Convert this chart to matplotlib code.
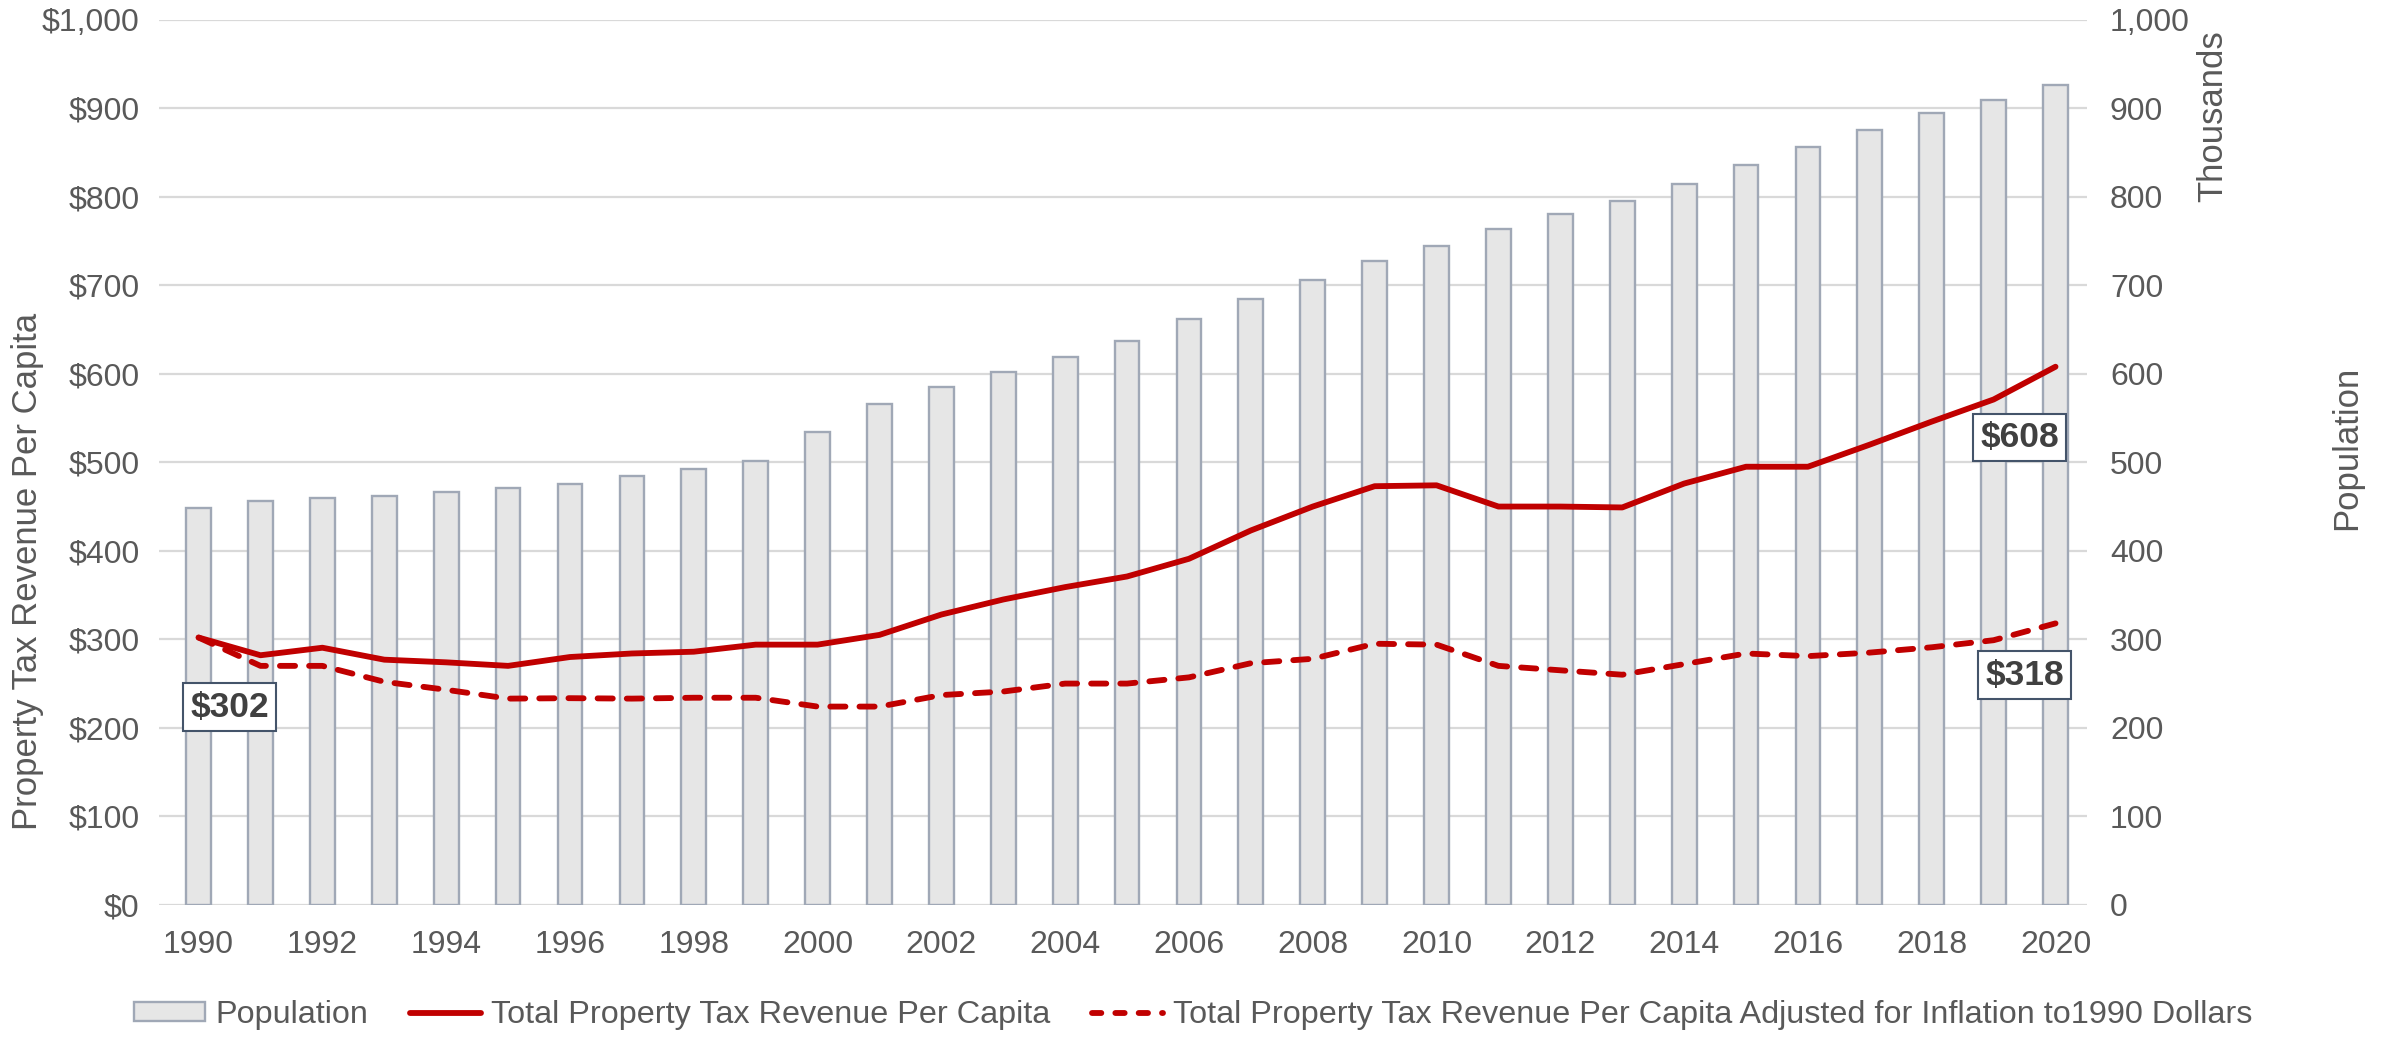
import matplotlib
matplotlib.use("Agg")
import matplotlib.pyplot as plt
from matplotlib.ticker import FuncFormatter, MultipleLocator
from matplotlib.patches import Patch
from matplotlib.lines import Line2D

plt.rcParams["font.family"] = ["Liberation Sans", "DejaVu Sans"]

years = list(range(1990, 2021))

# population, thousands
population = [448, 456, 460, 462, 466.5, 470.6, 476, 484.5, 492, 502,
              534, 566, 585, 602, 618.6, 636.7, 662, 685, 706, 727,
              744.6, 763.7, 780.8, 795.4, 814.6, 835.8, 856.8, 875.2, 894.8, 909.4,
              925.8]

# property tax revenue per capita, nominal dollars
revenue_nominal = [302, 282, 290.5, 277, 274, 270, 280, 284, 286, 294,
                   294, 305, 328, 345, 359, 371, 391, 423, 450, 473,
                   474, 450, 450, 449, 476, 495, 495, 520, 546, 571,
                   608]

# property tax revenue per capita, 1990 dollars
revenue_real = [302, 270, 270, 252, 243, 233, 233.5, 233, 234, 234,
                224, 224, 237, 241, 250, 250, 257, 273, 278, 295,
                294, 270, 265, 260, 272, 284, 281, 285, 291, 299,
                318]

TEXT = "#595959"
RED = "#C00000"
BAR_FILL = "#E6E6E6"
BAR_EDGE = "#A0A8B6"
GRID = "#D9D9D9"
LW = 4.2

fig = plt.figure(figsize=(23.89, 10.41), dpi=100)
ax2 = fig.add_axes([0.0666, 0.1308, 0.8070, 0.8502])
ax = ax2.twinx()
ax.set_zorder(ax2.get_zorder() + 1)
ax.patch.set_visible(False)

x = list(range(len(years)))

# population bars on the right-hand axis
ax2.bar(x, population, width=0.40, color=BAR_FILL, edgecolor=BAR_EDGE,
        linewidth=1.7, zorder=2)
ax2.set_axisbelow(True)
ax2.yaxis.grid(True, color=GRID, linewidth=1.6)

# revenue lines on the dollar axis
ax.plot(x, revenue_nominal, color=RED, linewidth=LW, solid_capstyle="round",
        solid_joinstyle="round", zorder=3)
ax.plot(x, revenue_real, color=RED, linewidth=LW, dashes=(2.6, 2.4),
        dash_capstyle="round", zorder=3)

for a in (ax, ax2):
    a.set_ylim(0, 1000)
    a.set_xlim(-0.638, 30.509)
    a.yaxis.set_major_locator(MultipleLocator(100))
    for s in a.spines.values():
        s.set_visible(False)
    a.tick_params(length=0, colors=TEXT, labelsize=23)

# ax2 was created first, so it holds the left side; swap sides so $ is left
ax2.yaxis.tick_right()
ax.yaxis.tick_left()
ax.yaxis.set_major_formatter(FuncFormatter(lambda v, p: f"${v:,.0f}"))
ax2.yaxis.set_major_formatter(FuncFormatter(lambda v, p: f"{v:,.0f}"))
ax.tick_params(axis="y", pad=14)
ax2.tick_params(axis="y", pad=16.5)

ax2.set_xticks(x[::2])
ax2.set_xticklabels([str(y) for y in years[::2]])
ax2.tick_params(axis="x", pad=18)

# value callouts at first and last points
box = dict(boxstyle="square,pad=0.2", facecolor="white", edgecolor="#44546A",
           linewidth=1.5)
label_kw = dict(ha="center", va="center", fontsize=25.5, fontweight="bold",
                color="#404040", bbox=box, zorder=5)
ax.text(0.5, 223.5, f"${revenue_nominal[0]:.0f}", **label_kw)
ax.text(29.42, 528, f"${revenue_nominal[-1]:.0f}", **label_kw)
ax.text(29.5, 259.6, f"${revenue_real[-1]:.0f}", **label_kw)

# axis titles
fig.text(28 / 2389, 1 - 571 / 1041, "Property Tax Revenue Per Capita",
         rotation=90, ha="center", va="center", fontsize=25, color=TEXT)
fig.text(2213 / 2389, 1 - 30 / 1041, "Thousands", rotation=90,
         ha="center", va="top", fontsize=25, color=TEXT)
fig.text(2347 / 2389, 1 - 448 / 1041, "Population", rotation=90,
         ha="center", va="center", fontsize=25, color=TEXT)

handles = [
    Patch(facecolor=BAR_FILL, edgecolor=BAR_EDGE, linewidth=1.7),
    Line2D([], [], color=RED, linewidth=LW, solid_capstyle="round"),
    Line2D([], [], color=RED, linewidth=LW, dashes=(1.6, 2.4),
           dash_capstyle="round"),
]
labels = [
    "Population",
    "Total Property Tax Revenue Per Capita",
    "Total Property Tax Revenue Per Capita Adjusted for Inflation to1990 Dollars",
]
leg = fig.legend(handles, labels, loc="center left", ncol=3,
                 bbox_to_anchor=(134 / 2389, 1 - 1015 / 1041),
                 frameon=False, fontsize=23.3, handlelength=2.2,
                 handleheight=0.5, handletextpad=0.3, columnspacing=1.3,
                 borderaxespad=0, borderpad=0)
for t in leg.get_texts():
    t.set_color(TEXT)

fig.savefig("out.png", dpi=100)
